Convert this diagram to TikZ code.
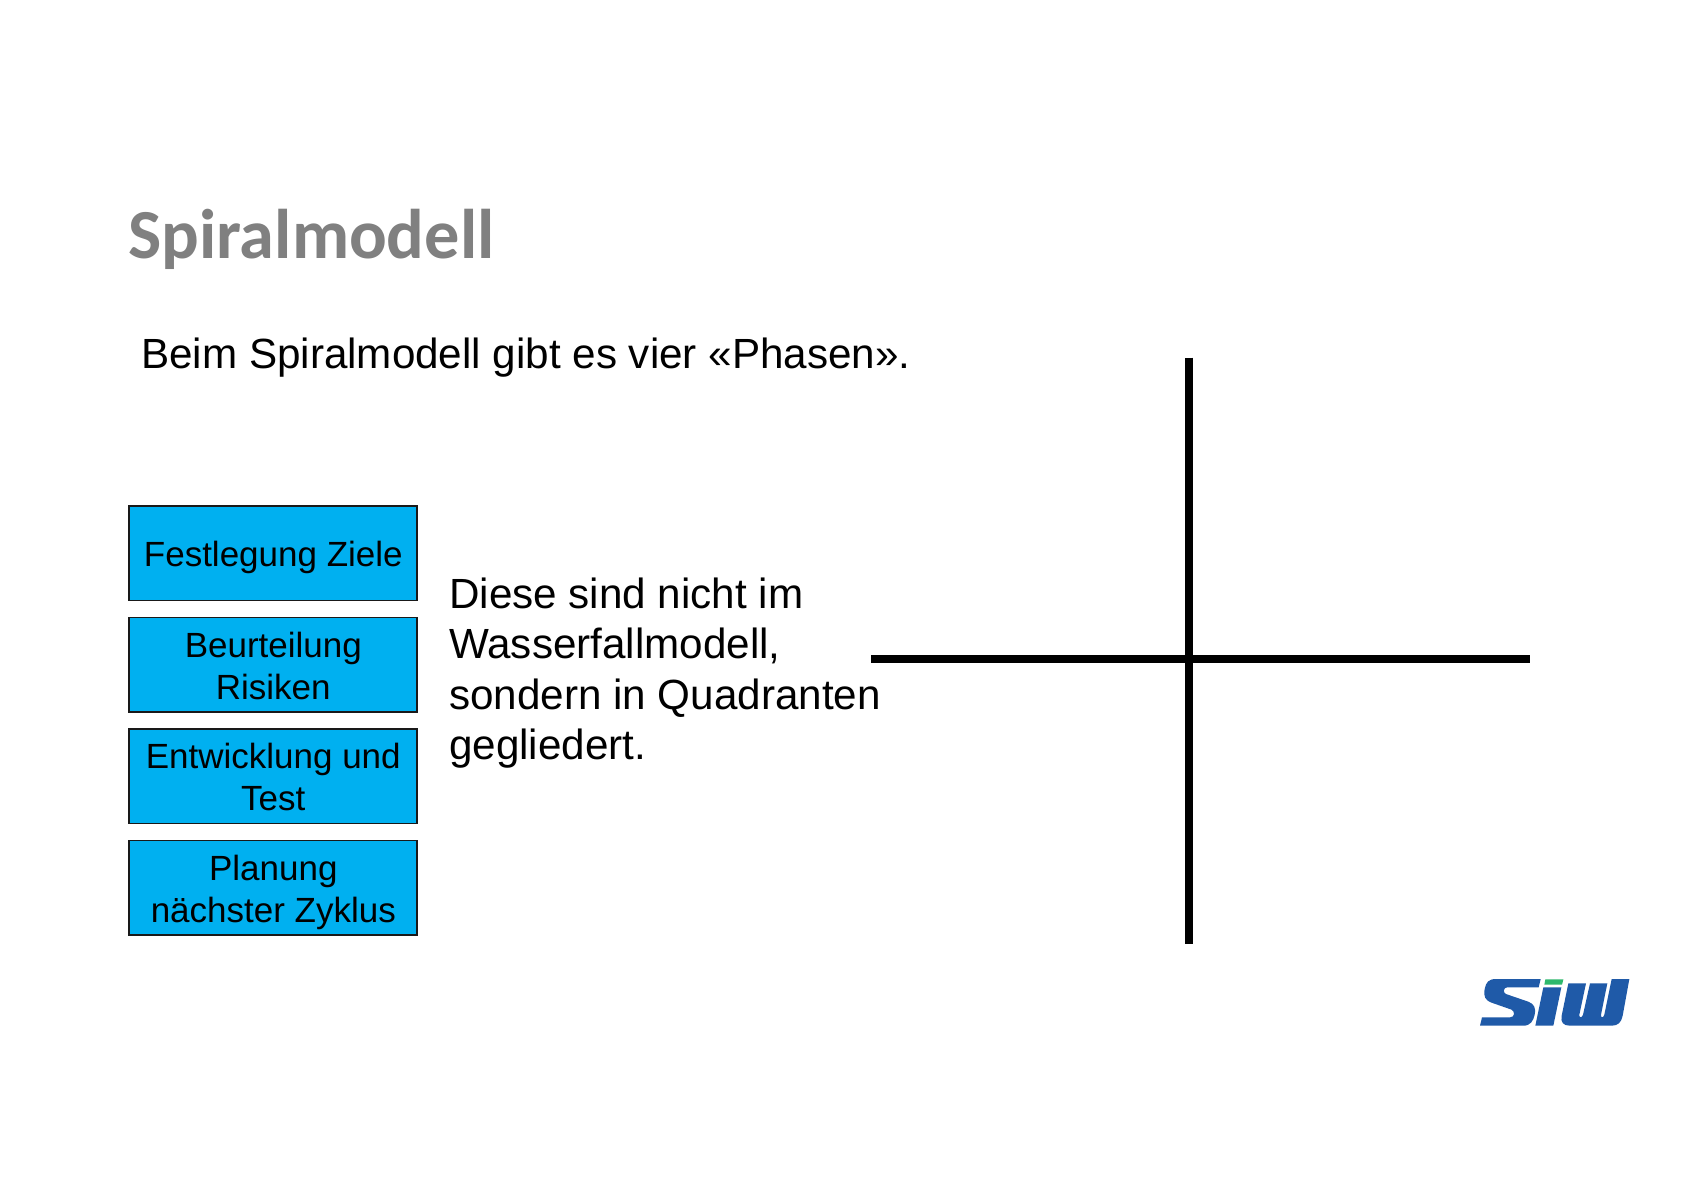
\documentclass[tikz,border=0pt]{standalone}
\usepackage{fontspec}
\setmainfont{Liberation Sans}
\newfontfamily\titlefont{Carlito}
\definecolor{boxblue}{HTML}{00B0F0}
\definecolor{titlegray}{HTML}{808080}
\definecolor{logoblue}{HTML}{1F5AA8}
\definecolor{logogreen}{HTML}{2DB86C}
\newcommand{\topstrut}{\rule{0pt}{34pt}}
\newcommand{\botstrut}{\rule[-7pt]{0pt}{7pt}}
\tikzset{
  phasebox/.style={draw=black!90,line width=1.8pt,fill=boxblue,minimum width=288pt,minimum height=94.5pt,inner sep=0pt,align=center,font=\fontsize{35}{42}\selectfont,text=black},
  bodytext/.style={inner sep=0pt,align=left,font=\fontsize{42.2}{50.5}\selectfont,text=black},
  crossline/.style={draw=black,line width=8pt},
}
\begin{document}
\begin{tikzpicture}[x=1pt,y=-1pt]
\useasboundingbox (0,0) rectangle (1683,1190);
\fill[white] (0,0) rectangle (1683,1190);
\node[anchor=base west,inner sep=0pt,text=titlegray,font=\titlefont\bfseries\fontsize{70.3}{80}\selectfont] (title) at (128,259) {Spiralmodell};
\node[bodytext,anchor=base west] (intro) at (141,368) {Beim Spiralmodell gibt es vier «Phasen».};
\node[phasebox] (p1) at (273.3,553.3) {\topstrut Festlegung Ziele\botstrut};
\node[phasebox] (p2) at (273.3,664.8) {\topstrut Beurteilung\\Risiken\botstrut};
\node[phasebox] (p3) at (273.3,776.3) {\topstrut Entwicklung und\\Test\botstrut};
\node[phasebox] (p4) at (273.3,887.8) {\topstrut Planung\\nächster Zyklus\botstrut};
\node[bodytext,anchor=west] (para) at (449,673) {Diese sind nicht im\\Wasserfallmodell,\\sondern in Quadranten\\gegliedert.};
\coordinate (vt) at (1188.7,357.5);
\coordinate (vb) at (1188.7,944);
\coordinate (hl) at (871,658.5);
\coordinate (hr) at (1530,658.5);
\draw[crossline] (vt) -- (vb);
\draw[crossline] (hl) -- (hr);
\begin{scope}[shift={(1460,960.7)},x=0.3333pt,y=-0.3333pt]
\fill[logoblue] (242,55) -- (108,55) .. controls (85,55) and (78,65) .. (74,85) .. controls (70,108) and (75,118) .. (95,126) -- (155,147) .. controls (165,152) and (165,170) .. (150,170) -- (66,170) -- (60,195) -- (190,195) .. controls (212,195) and (220,180) .. (224,162) .. controls (228,140) and (222,130) .. (205,123) -- (138,100) .. controls (128,95) and (130,80) .. (142,80) -- (236,80) -- cycle;
\fill[logogreen] (256,56) -- (310,56) -- (306,72) -- (253,72) -- cycle;
\fill[logoblue] (250,80) -- (304,80) -- (280,195) -- (226,195) -- cycle;
\fill[logoblue] (325,68) -- (378,68) -- (358,162) .. controls (356,172) and (367,172) .. (369,162) -- (390,68) -- (442,68) -- (423,162) .. controls (421,172) and (431,172) .. (433,162) -- (455,55) -- (508,55) -- (488,165) .. controls (484,185) and (474,195) .. (455,195) -- (330,195) .. controls (310,195) and (301,185) .. (305,165) -- cycle;
\end{scope}
\end{tikzpicture}
\end{document}
